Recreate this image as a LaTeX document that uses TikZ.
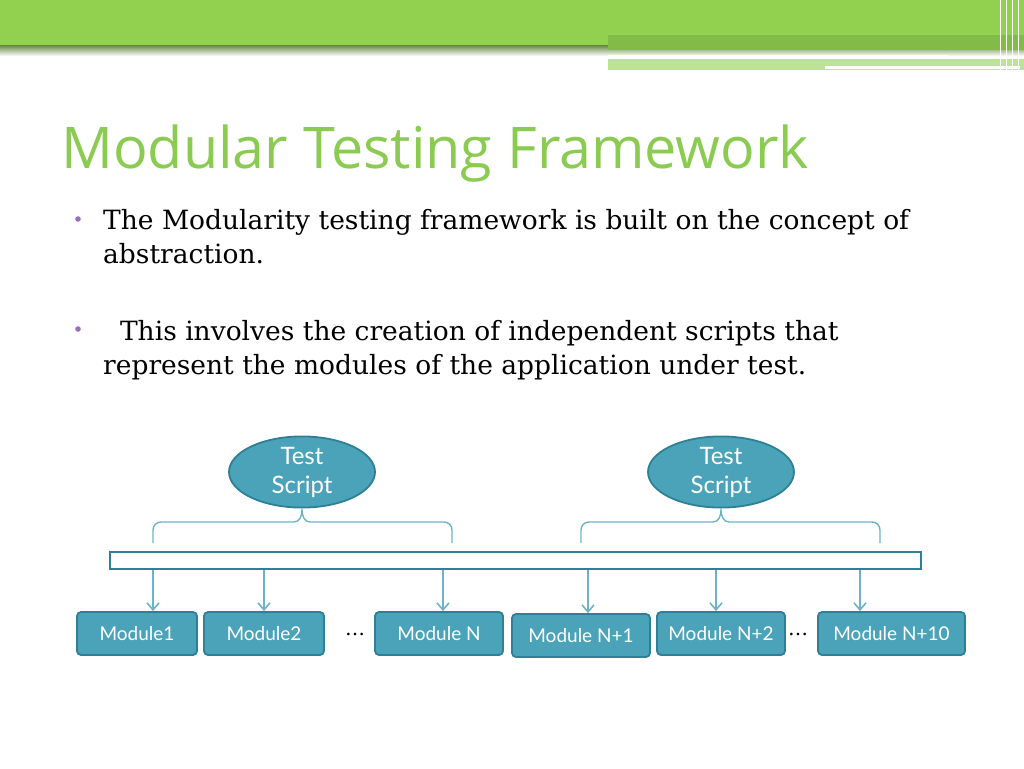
\documentclass[tikz,border=0pt]{standalone}
\usepackage{fontspec}
\setmainfont{DejaVu Serif}
\newfontfamily\titlefont{Open Sans}
\newfontfamily\boxfont{Lato}
\usetikzlibrary{positioning,shapes.geometric,arrows.meta}
\definecolor{topgreen}{HTML}{92D050}
\definecolor{titlegreen}{HTML}{8CCB52}
\definecolor{teal}{HTML}{4BA3B9}
\definecolor{tealdark}{HTML}{2F8096}
\definecolor{teallight}{HTML}{6DB3C6}
\definecolor{bullet}{HTML}{9B6FB8}
\tikzset{
  module/.style={draw=tealdark,line width=1.8pt,fill=teal,rounded corners=4pt,
    minimum height=43pt,text=white,font=\boxfont\fontsize{19}{19}\selectfont,inner sep=0pt},
  script/.style={ellipse,draw=tealdark,line width=1.8pt,fill=teal,minimum width=146pt,
    minimum height=60pt,text=white,align=center,inner sep=0pt,
    font=\boxfont\fontsize{24}{29}\selectfont},
  feed/.style={draw=teallight,line width=1.6pt,->,>={Straight Barb[length=7pt,width=12pt]}},
  grp/.style={draw=teallight,line width=1.4pt},
  line/.style={anchor=base west,font=\fontsize{26.5}{26.5}\selectfont,inner sep=0pt}
}
\begin{document}
\begin{tikzpicture}[x=1pt,y=-1pt]
        \useasboundingbox (0,0) rectangle (1024,768);
        % Header band
        \shade[top color=topgreen!60!black,bottom color=white] (0,44) rectangle (1024,56);
        \fill[topgreen] (0,0) rectangle (1024,45);
        \fill[topgreen!90!black] (608,35) rectangle (1024,50);
        \fill[topgreen!60!white] (608,59) rectangle (1024,70);
        \fill[white] (608,55) rectangle (948,58);
        \fill[white] (825,66) rectangle (1020,69);
        \foreach \x in {1000,1006,1012,1018} \draw[white,line width=0.8pt] (\x,0) -- (\x,72);

        % Title and bullets
        \node[anchor=base west,text=titlegreen,font=\titlefont\fontsize{57.5}{57.5}\selectfont,inner sep=0pt]
          (title) at (61,168) {Modular Testing Framework};
        \node[line] (l1) at (103,229) {The Modularity testing framework is built on the concept of};
        \node[line] (l2) at (103,263) {abstraction.};
        \node[line] (l3) at (103,340) {\ \ This involves the creation of independent scripts that};
        \node[line] (l4) at (103,374) {represent the modules of the application under test.};
        \fill[bullet] (78,219) circle (2.8);
        \fill[bullet] (78,329) circle (2.8);

        % Test scripts
        \node[script] (ts1) at (302,472) {Test\\Script};
        \node[script] (ts2) at (721,472) {Test\\Script};

        % Shared bar
        \node[draw=tealdark,line width=1.8pt,fill=white,minimum width=811pt,minimum height=17pt,inner sep=0pt]
          (bar) at (515.5,560.5) {};

        % Modules
        \node[module,minimum width=120pt] (m1) at (137,633.5) {Module1};
        \node[module,minimum width=120pt] (m2) at (264,633.5) {Module2};
        \node[module,minimum width=128pt] (mn) at (439,633.5) {Module N};
        \node[module,minimum width=138pt] (mn1) at (581,635.5) {Module N+1};
        \node[module,minimum width=128pt] (mn2) at (721,633.5) {Module N+2};
        \node[module,minimum width=147pt] (mn10) at (891.5,633.5) {Module N+10};
        \node[font=\fontsize{20}{20}\selectfont] (d1) at (355,634) {\dots};
        \node[font=\fontsize{20}{20}\selectfont] (d2) at (798,634) {\dots};

        % Braces from scripts
        \draw[grp] (153,543) -- (153,530) to[out=90,in=180] (161,522) -- (294,522)
          to[out=0,in=-90] (302,510) -- (ts1.south) (302,510) to[out=-90,in=180] (310,522)
          -- (444,522) to[out=0,in=90] (452,530) -- (452,543);
        \draw[grp] (581,543) -- (581,530) to[out=90,in=180] (589,522) -- (713,522)
          to[out=0,in=-90] (721,510) -- (ts2.south) (721,510) to[out=-90,in=180] (729,522)
          -- (872,522) to[out=0,in=90] (880,530) -- (880,543);

        % Arrows to modules
        \draw[feed] (bar.south -| 153,0) -- (m1.north -| 153,0);
        \draw[feed] (bar.south -| m2) -- (m2.north);
        \draw[feed] (bar.south -| 443,0) -- (mn.north -| 443,0);
        \draw[feed] (bar.south -| 588,0) -- (mn1.north -| 588,0);
        \draw[feed] (bar.south -| 716,0) -- (mn2.north -| 716,0);
        \draw[feed] (bar.south -| 860,0) -- (mn10.north -| 860,0);
    \end{tikzpicture}
\end{document}
